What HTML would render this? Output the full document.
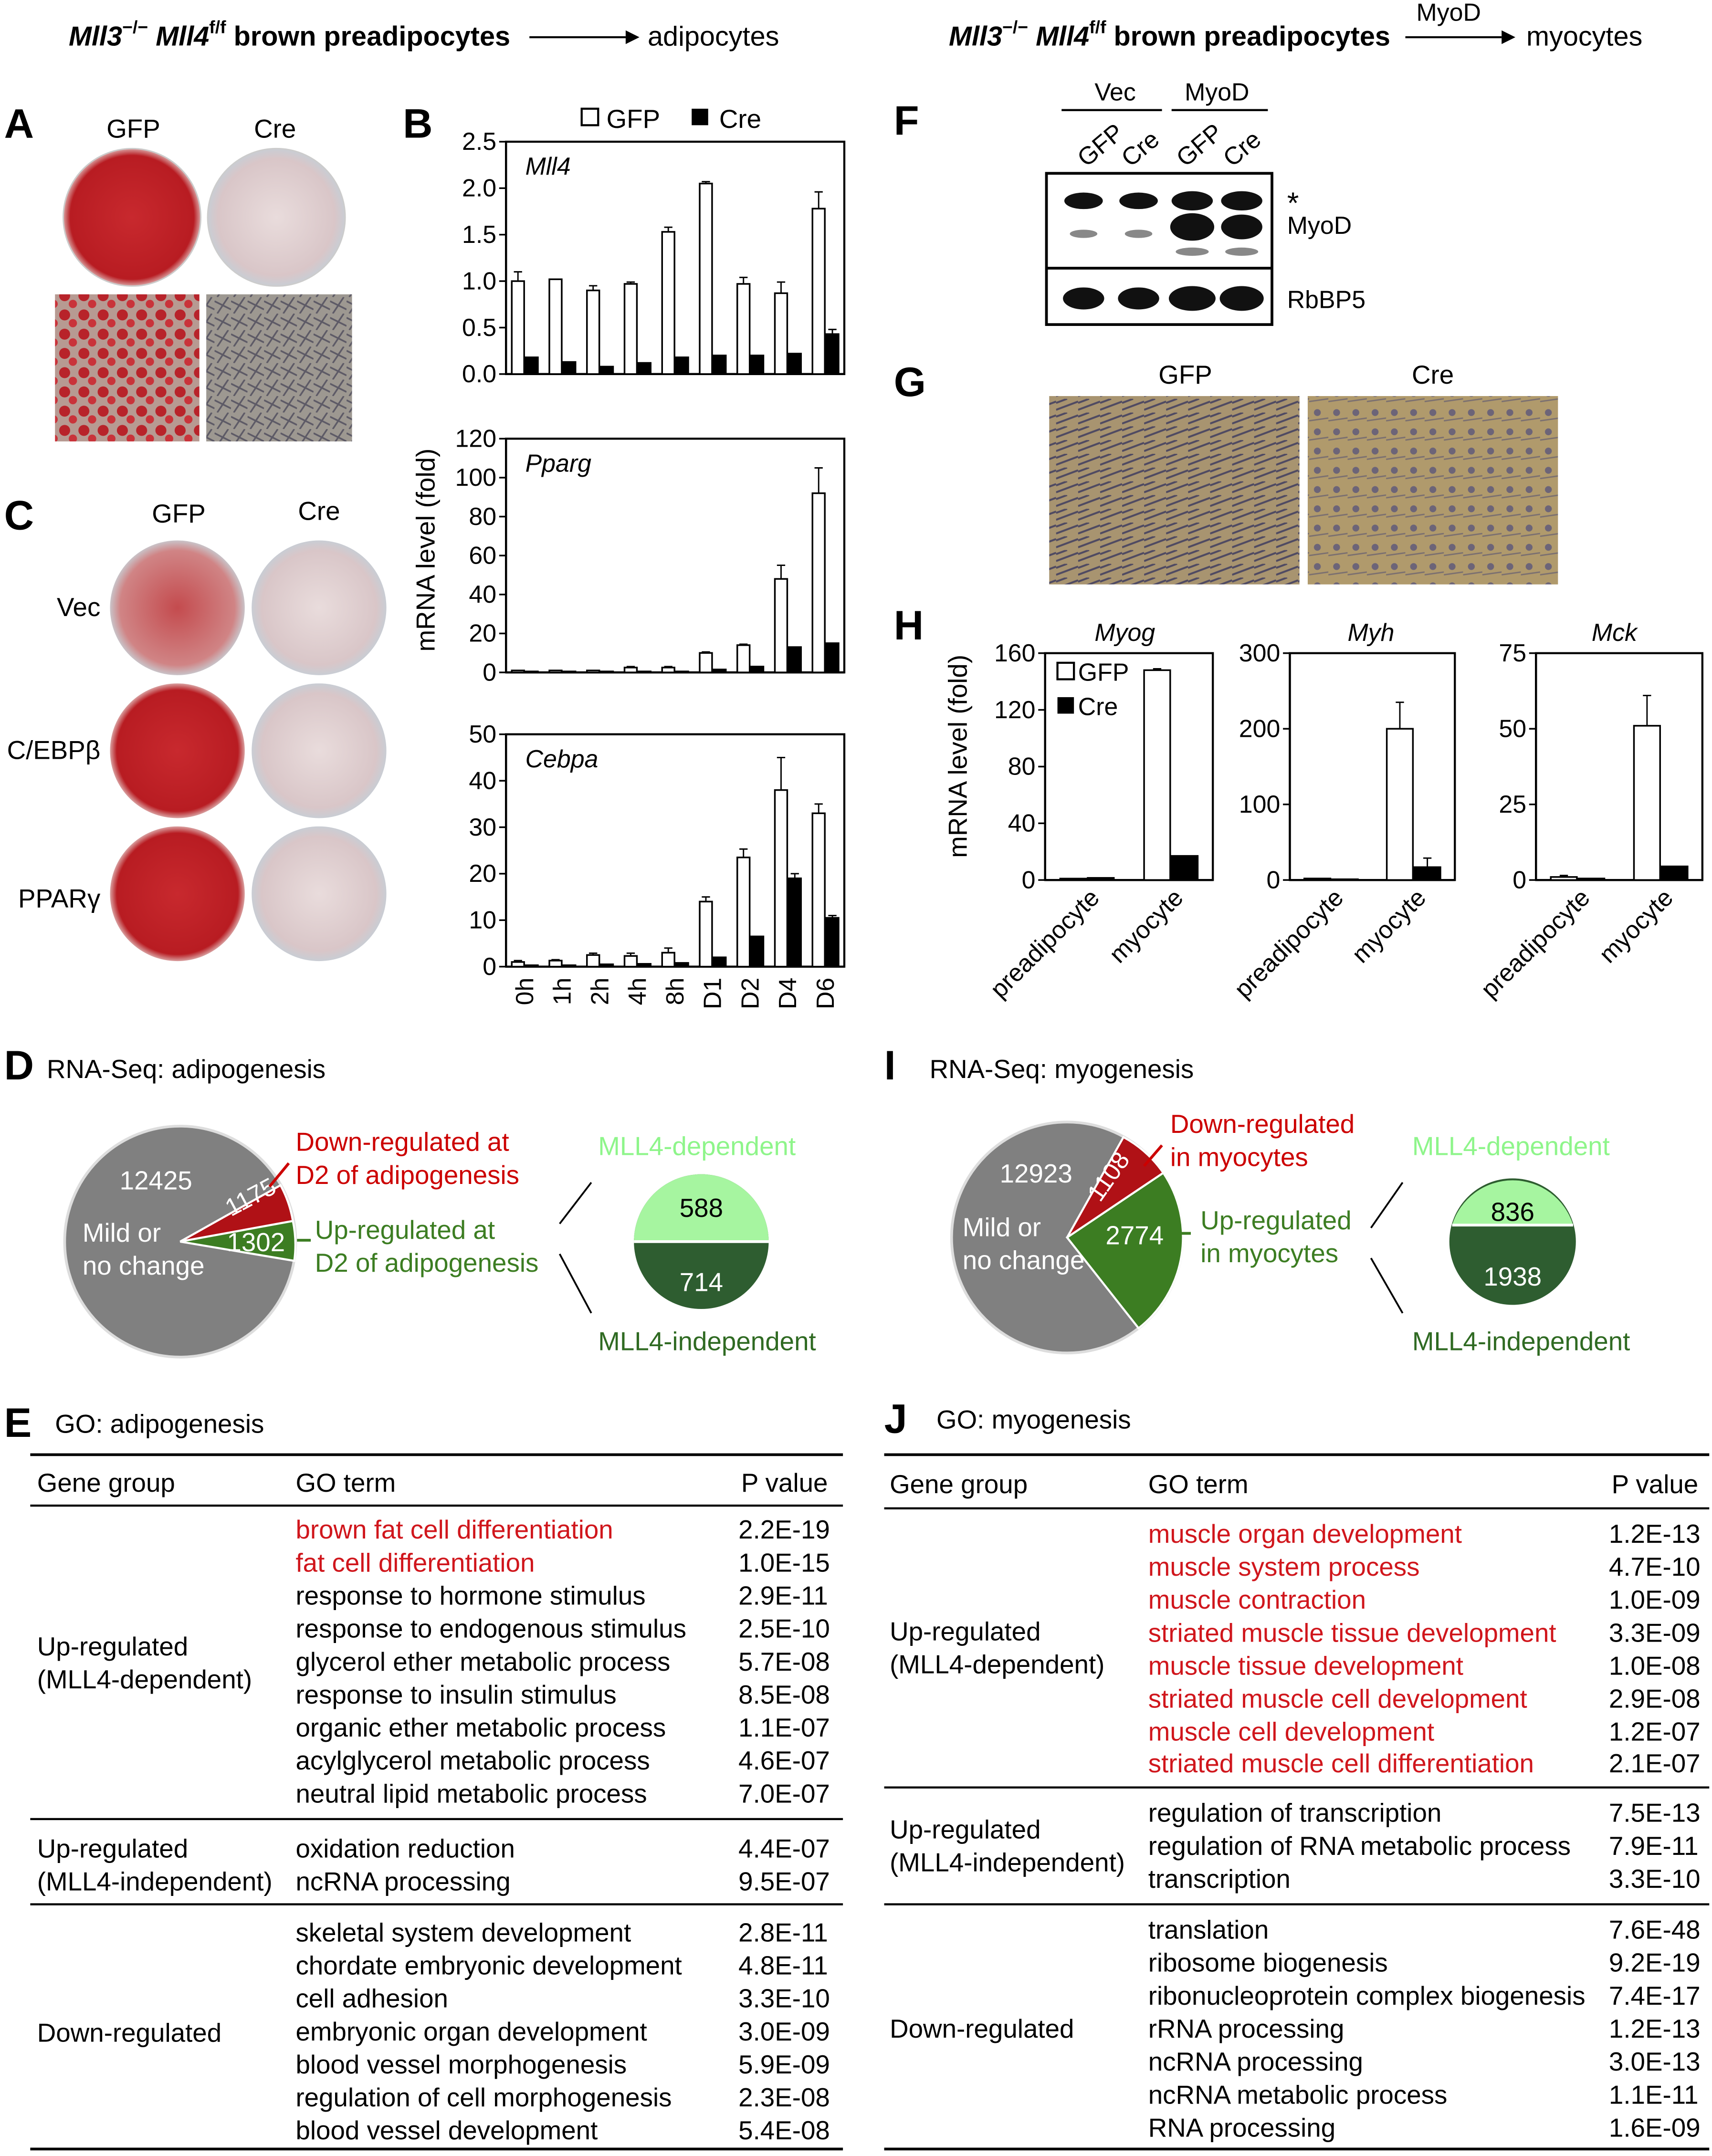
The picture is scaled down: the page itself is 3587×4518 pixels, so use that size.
<!DOCTYPE html>
<html><head><meta charset="utf-8"><style>
html,body{margin:0;padding:0;background:#fff}
svg{display:block;font-family:"Liberation Sans",Arial,sans-serif}
</style></head><body>
<svg id="fig" width="3587" height="4518" viewBox="0 0 1245 1568" xmlns="http://www.w3.org/2000/svg">
<defs>
<radialGradient id="redPlate"><stop offset="0" stop-color="#c8292e"/><stop offset="0.9" stop-color="#b81c22"/><stop offset="1" stop-color="#d9a0a0"/></radialGradient>
<radialGradient id="palePlate"><stop offset="0" stop-color="#e9dcdc"/><stop offset="0.85" stop-color="#d9c6c8"/><stop offset="1" stop-color="#c9cdd4"/></radialGradient>
<radialGradient id="midPlate"><stop offset="0" stop-color="#c44b4e"/><stop offset="0.85" stop-color="#d08485"/><stop offset="1" stop-color="#c9c3c8"/></radialGradient>
<pattern id="fatCells" width="14" height="14" patternUnits="userSpaceOnUse"><rect width="14" height="14" fill="#b79a92"/><circle cx="5" cy="5" r="4" fill="#b8232a"/><circle cx="11" cy="11" r="3" fill="#c9333a"/></pattern>
<pattern id="cells" width="12" height="12" patternUnits="userSpaceOnUse"><rect width="12" height="12" fill="#9d9891"/><path d="M0 3 L12 9 M2 12 L10 0" stroke="#5d5a66" stroke-width="1.2"/></pattern>
<pattern id="myo1" width="16" height="10" patternUnits="userSpaceOnUse"><rect width="16" height="10" fill="#a89470"/><path d="M0 8 L16 2 M0 3 L8 0" stroke="#4f4a62" stroke-width="1.4"/></pattern>
<pattern id="myo2" width="14" height="14" patternUnits="userSpaceOnUse"><rect width="14" height="14" fill="#b09a6c"/><circle cx="6" cy="6" r="2.5" fill="#6c6478"/><path d="M0 12 L14 10" stroke="#7a6f70" stroke-width="1"/></pattern>
</defs>

<!-- headers -->
<g font-size="20" font-weight="bold">
<text x="50" y="33"><tspan font-style="italic">Mll3</tspan><tspan font-size="13" dy="-9">−/−</tspan><tspan dy="9" font-style="italic"> Mll4</tspan><tspan font-size="13" dy="-9">f/f</tspan><tspan dy="9"> brown preadipocytes</tspan></text>
<line x1="385" y1="27" x2="455" y2="27" stroke="#000" stroke-width="1.5"/><path d="M455 22 L465 27 L455 32Z"/>
<text x="471" y="33" font-weight="normal">adipocytes</text>
</g>
<g font-size="20">
<text x="690" y="33" font-weight="bold"><tspan font-style="italic">Mll3</tspan><tspan font-size="13" dy="-9">−/−</tspan><tspan dy="9" font-style="italic"> Mll4</tspan><tspan font-size="13" dy="-9">f/f</tspan><tspan dy="9"> brown preadipocytes</tspan></text>
<text x="1030" y="15" font-size="18">MyoD</text>
<line x1="1022" y1="27" x2="1092" y2="27" stroke="#000" stroke-width="1.5"/><path d="M1092 22 L1102 27 L1092 32Z"/>
<text x="1110" y="33">myocytes</text>
</g>

<!-- panel letters -->
<g font-size="30" font-weight="bold">
<text x="3" y="100">A</text><text x="293" y="100">B</text><text x="3" y="385">C</text><text x="650" y="98">F</text><text x="650" y="288">G</text><text x="650" y="465">H</text><text x="3" y="785">D</text><text x="643" y="785">I</text><text x="3" y="1045">E</text><text x="643" y="1042">J</text>
</g>

<!-- Panel A -->
<g font-size="19">
<text x="97" y="100" text-anchor="middle">GFP</text><text x="200" y="100" text-anchor="middle">Cre</text>
<circle cx="96" cy="158" r="50" fill="url(#redPlate)" stroke="#ccc"/>
<circle cx="201" cy="158" r="50" fill="url(#palePlate)" stroke="#ccc"/>
<rect x="40" y="214" width="105" height="107" fill="url(#fatCells)"/>
<rect x="150" y="214" width="106" height="107" fill="url(#cells)"/>
</g>

<!-- Panel C -->
<g font-size="19">
<text x="130" y="380" text-anchor="middle">GFP</text><text x="232" y="378" text-anchor="middle">Cre</text>
<text x="73" y="448" text-anchor="end">Vec</text><text x="73" y="552" text-anchor="end">C/EBPβ</text><text x="73" y="660" text-anchor="end">PPARγ</text>
<circle cx="129" cy="442" r="49" fill="url(#midPlate)"/><circle cx="232" cy="442" r="49" fill="url(#palePlate)"/>
<circle cx="129" cy="546" r="49" fill="url(#redPlate)"/><circle cx="232" cy="546" r="49" fill="url(#palePlate)"/>
<circle cx="129" cy="650" r="49" fill="url(#redPlate)"/><circle cx="232" cy="650" r="49" fill="url(#palePlate)"/>
</g>

<!-- Panel B legend -->
<g font-size="19">
<rect x="423" y="79" width="12" height="12" fill="#fff" stroke="#000" stroke-width="1.5"/><text x="441" y="93">GFP</text>
<rect x="503" y="79" width="12" height="12" fill="#000"/><text x="523" y="93">Cre</text>
</g>
<text transform="translate(316,400) rotate(-90)" text-anchor="middle" font-size="19">mRNA level (fold)</text>
<g id="chartB"></g>

<!-- Panel F -->
<g font-size="18">
<text x="811" y="73" text-anchor="middle">Vec</text><text x="885" y="73" text-anchor="middle">MyoD</text>
<line x1="772" y1="80" x2="845" y2="80" stroke="#000" stroke-width="1.5"/><line x1="852" y1="80" x2="922" y2="80" stroke="#000" stroke-width="1.5"/>
<text transform="translate(790,122) rotate(-40)">GFP</text><text transform="translate(822,122) rotate(-40)">Cre</text>
<text transform="translate(862,122) rotate(-40)">GFP</text><text transform="translate(896,122) rotate(-40)">Cre</text>
<rect x="761" y="126" width="164" height="110" fill="#fff" stroke="#000" stroke-width="2"/>
<line x1="761" y1="195" x2="925" y2="195" stroke="#000" stroke-width="2"/>
<g fill="#111"><ellipse cx="788" cy="146" rx="14" ry="6"/><ellipse cx="828" cy="146" rx="14" ry="6"/><ellipse cx="867" cy="146" rx="15" ry="7"/><ellipse cx="903" cy="146" rx="15" ry="7"/>
<ellipse cx="867" cy="165" rx="16" ry="10"/><ellipse cx="903" cy="165" rx="15" ry="9"/>
<ellipse cx="788" cy="217" rx="15" ry="8"/><ellipse cx="828" cy="217" rx="15" ry="8"/><ellipse cx="867" cy="217" rx="17" ry="9"/><ellipse cx="903" cy="217" rx="16" ry="9"/></g>
<g fill="#888"><ellipse cx="788" cy="170" rx="10" ry="3"/><ellipse cx="828" cy="170" rx="10" ry="3"/><ellipse cx="867" cy="183" rx="12" ry="3"/><ellipse cx="903" cy="183" rx="12" ry="3"/></g>
<text x="936" y="155" font-size="22">*</text><text x="936" y="170">MyoD</text><text x="936" y="224">RbBP5</text>
</g>

<!-- Panel G -->
<g font-size="19">
<text x="862" y="279" text-anchor="middle">GFP</text><text x="1042" y="279" text-anchor="middle">Cre</text>
<rect x="763" y="288" width="182" height="137" fill="url(#myo1)"/>
<rect x="951" y="288" width="182" height="137" fill="url(#myo2)"/>
</g>

<text transform="translate(703,550) rotate(-90)" text-anchor="middle" font-size="19">mRNA level (fold)</text>
<g id="chartH"></g>

<!-- Panel D -->
<g font-size="19">
<text x="34" y="784">RNA-Seq: adipogenesis</text>
<circle cx="131" cy="903" r="84" fill="#808080" stroke="#ddd" stroke-width="2"/>
<path d="M131 903 L204 862 A84 84 0 0 1 213 888 Z" fill="#b01116" stroke="#fff" stroke-width="1.5"/>
<path d="M131 903 L213 888 A84 84 0 0 1 214 917 Z" fill="#3c7d22" stroke="#fff" stroke-width="1.5"/>
<g fill="#fff"><text x="87" y="865">12425</text><text x="60" y="903">Mild or</text><text x="60" y="927">no change</text><text x="165" y="910">1302</text><text transform="translate(168,885) rotate(-28)" font-size="18">1175</text></g>
<line x1="196" y1="863" x2="210" y2="846" stroke="#c00" stroke-width="2"/>
<g fill="#c00"><text x="215" y="837">Down-regulated at</text><text x="215" y="861">D2 of adipogenesis</text></g>
<line x1="216" y1="902" x2="226" y2="902" stroke="#3c7d22" stroke-width="2"/>
<g fill="#3c7d22"><text x="229" y="901">Up-regulated at</text><text x="229" y="925">D2 of adipogenesis</text></g>
<path d="M407 890 L430 860 M407 912 L430 955" stroke="#000" stroke-width="1.3" fill="none"/>
<text x="435" y="840" fill="#8ef58a">MLL4-dependent</text><text x="435" y="982" fill="#2f6a22">MLL4-independent</text>
<circle cx="510" cy="903" r="49" fill="#2e5d30"/>
<path d="M461 903 A49 49 0 0 1 559 903 Z" fill="#a6f5a0"/>
<line x1="461" y1="903" x2="559" y2="903" stroke="#fff" stroke-width="2"/>
<text x="510" y="885" text-anchor="middle">588</text><text x="510" y="939" text-anchor="middle" fill="#fff">714</text>
</g>

<!-- Panel I -->
<g font-size="19">
<text x="676" y="784">RNA-Seq: myogenesis</text>
<circle cx="776" cy="900" r="84" fill="#808080" stroke="#ddd" stroke-width="2"/>
<path d="M776 900 L817 827 A84 84 0 0 1 846 853 Z" fill="#b01116" stroke="#fff" stroke-width="1.5"/>
<path d="M776 900 L846 853 A84 84 0 0 1 828 966 Z" fill="#3c7d22" stroke="#fff" stroke-width="1.5"/>
<g fill="#fff"><text x="727" y="860">12923</text><text x="700" y="899">Mild or</text><text x="700" y="923">no change</text><text x="804" y="905">2774</text><text transform="translate(800,875) rotate(-55)" font-size="18">1108</text></g>
<line x1="832" y1="848" x2="845" y2="833" stroke="#c00" stroke-width="2"/>
<g fill="#c00"><text x="851" y="824">Down-regulated</text><text x="851" y="848">in myocytes</text></g>
<line x1="856" y1="897" x2="866" y2="897" stroke="#3c7d22" stroke-width="2"/>
<g fill="#3c7d22"><text x="873" y="894">Up-regulated</text><text x="873" y="918">in myocytes</text></g>
<path d="M997 893 L1020 860 M997 915 L1020 955" stroke="#000" stroke-width="1.3" fill="none"/>
<text x="1027" y="840" fill="#8ef58a">MLL4-dependent</text><text x="1027" y="982" fill="#2f6a22">MLL4-independent</text>
<circle cx="1100" cy="903" r="46" fill="#2e5d30"/>
<path d="M1056 891 A46 46 0 0 1 1144 891 Z" fill="#a6f5a0"/>
<line x1="1056" y1="891" x2="1144" y2="891" stroke="#fff" stroke-width="2"/>
<text x="1100" y="888" text-anchor="middle">836</text><text x="1100" y="935" text-anchor="middle" fill="#fff">1938</text>
</g>

<!-- Panel E table -->
<g font-size="19">
<text x="40" y="1042">GO: adipogenesis</text>
<line x1="22" y1="1058" x2="613" y2="1058" stroke="#000" stroke-width="2"/>
<text x="27" y="1085">Gene group</text><text x="215" y="1085">GO term</text><text x="539" y="1085">P value</text>
<line x1="22" y1="1095" x2="613" y2="1095" stroke="#000" stroke-width="1.5"/>
<line x1="22" y1="1323" x2="613" y2="1323" stroke="#000" stroke-width="1.5"/>
<line x1="22" y1="1385" x2="613" y2="1385" stroke="#000" stroke-width="1.5"/>
<line x1="22" y1="1563" x2="613" y2="1563" stroke="#000" stroke-width="2"/>
<text x="27" y="1204">Up-regulated</text><text x="27" y="1228">(MLL4-dependent)</text>
<text x="27" y="1351">Up-regulated</text><text x="27" y="1375">(MLL4-independent)</text>
<text x="27" y="1485">Down-regulated</text>
<g id="tableE"></g>
</g>

<!-- Panel J table -->
<g font-size="19">
<text x="681" y="1039">GO: myogenesis</text>
<line x1="643" y1="1058" x2="1243" y2="1058" stroke="#000" stroke-width="2"/>
<text x="647" y="1086">Gene group</text><text x="835" y="1086">GO term</text><text x="1172" y="1086">P value</text>
<line x1="643" y1="1097" x2="1243" y2="1097" stroke="#000" stroke-width="1.5"/>
<line x1="643" y1="1300" x2="1243" y2="1300" stroke="#000" stroke-width="1.5"/>
<line x1="643" y1="1385" x2="1243" y2="1385" stroke="#000" stroke-width="1.5"/>
<line x1="643" y1="1563" x2="1243" y2="1563" stroke="#000" stroke-width="2"/>
<text x="647" y="1193">Up-regulated</text><text x="647" y="1217">(MLL4-dependent)</text>
<text x="647" y="1337">Up-regulated</text><text x="647" y="1361">(MLL4-independent)</text>
<text x="647" y="1482">Down-regulated</text>
<g id="tableJ"></g>
</g>
</svg>
<script>
const NS="http://www.w3.org/2000/svg";
// ---- Panel B data ----
const timeLabels=["0h","1h","2h","4h","8h","D1","D2","D4","D6"];
const mll4GFP=[1.0,1.02,0.9,0.97,1.53,2.05,0.97,0.87,1.78];
const mll4GFPerr=[0.1,0,0.05,0.02,0.05,0.02,0.07,0.12,0.18];
const mll4Cre=[0.18,0.13,0.08,0.12,0.18,0.2,0.2,0.22,0.43];
const mll4Creerr=[0,0,0,0,0,0,0,0,0.05];
const ppargGFP=[1,1,1,2.5,2.5,10,14,48,92];
const ppargGFPerr=[0,0,0,0.5,0.5,0.5,0.5,7,13];
const ppargCre=[0.5,0.5,0.5,0.5,0.5,1.5,3,13,15];
const ppargCreerr=[0,0,0,0,0,0,0,0,0];
const cebpaGFP=[1,1.3,2.5,2.3,3,14,23.5,38,33];
const cebpaGFPerr=[0.3,0.2,0.4,0.6,1,1,1.8,7,2];
const cebpaCre=[0.3,0.3,0.5,0.6,0.8,2,6.5,19,10.5];
const cebpaCreerr=[0,0,0,0,0,0,0,1,0.5];
const mll4Ticks=[0,0.5,1.0,1.5,2.0,2.5];
const ppargTicks=[0,20,40,60,80,100,120];
const cebpaTicks=[0,10,20,30,40,50];
// ---- Panel H data ----
const cellLabels=["preadipocyte","myocyte"];
const myogGFP=[1,148], myogGFPerr=[0,1], myogCre=[1.5,17], myogCreerr=[0,0];
const myhGFP=[2,200], myhGFPerr=[0,35], myhCre=[1,17], myhCreerr=[0,12];
const mckGFP=[1,51], mckGFPerr=[0.5,10], mckCre=[0.5,4.5], mckCreerr=[0,0];
const myogTicks=[0,40,80,120,160], myhTicks=[0,100,200,300], mckTicks=[0,25,50,75];

function el(tag,attrs,parent,txt){const e=document.createElementNS(NS,tag);for(const k in attrs)e.setAttribute(k,attrs[k]);if(txt!==undefined)e.textContent=txt;parent.appendChild(e);return e;}

function barPanel(o){
  const g=el("g",{},o.parent);
  
  
  const max=o.ticks[o.ticks.length-1];
  const y=v=>o.y0-(v/max)*(o.y0-o.y1);
  const n=o.cats.length, step=(o.x1-o.x0)/n;
  const xc=i=>o.x0+step*(i+0.5);
  el("rect",{x:o.x0,y:o.y1,width:o.x1-o.x0,height:o.y0-o.y1,fill:"none",stroke:"#000","stroke-width":o.box?1.5:0},g);
  el("line",{x1:o.x0,y1:o.y1,x2:o.x0,y2:o.y0,stroke:"#000","stroke-width":1.5},g);
  el("line",{x1:o.x0,y1:o.y0,x2:o.x1,y2:o.y0,stroke:"#000","stroke-width":1.5},g);
  o.ticks.forEach(t=>{
    el("line",{x1:o.x0-5,y1:y(t),x2:o.x0,y2:y(t),stroke:"#000","stroke-width":1.2},g);
    const tl=el("text",{x:o.x0-7,y:y(t)+6,"text-anchor":"end","font-size":18},g,o.fmt?t.toFixed(1):String(t));
    
    
  });
  el("text",{x:o.titleX,y:(o.titleY!==undefined?o.titleY:o.y1+24),"font-size":18,"font-style":"italic","text-anchor":o.titleAnchor||"start"},g,o.title);
  for(let i=0;i<n;i++){
    [[o.gfp,o.gfpErr,"#fff",-1],[o.cre,o.creErr,"#000",1]].forEach(([vals,errs,fill,side])=>{
      const cx=xc(i)+side*o.off, v=vals[i];
      const b=el("rect",{x:cx-o.bw/2,y:y(v),width:o.bw,height:o.y0-y(v),fill:fill,stroke:"#000","stroke-width":1.2},g);
      
      
      if(errs[i]>0){
        el("line",{x1:cx,y1:y(v),x2:cx,y2:y(v+errs[i]),stroke:"#000","stroke-width":1},g);
        el("line",{x1:cx-3,y1:y(v+errs[i]),x2:cx+3,y2:y(v+errs[i]),stroke:"#000","stroke-width":1},g);
      }
    });
  }
  if(o.xlabels){
    o.cats.forEach((c,i)=>{
      const t=el("text",{transform:`translate(${xc(i)+6},${o.y0+8}) rotate(-90)`,"text-anchor":"end","font-size":18},g,c);
      
      
    });
  }
  if(o.hlabels){
    o.cats.forEach((c,i)=>{
      const t=el("text",{transform:`translate(${xc(i)+10},${o.y0+14}) rotate(-45)`,"text-anchor":"end","font-size":18},g,c);
      
      
    });
  }
}
const cB=document.getElementById("chartB");
barPanel({parent:cB,name:"chart-mll4",cats:timeLabels,gfp:mll4GFP,gfpErr:mll4GFPerr,cre:mll4Cre,creErr:mll4Creerr,ticks:mll4Ticks,fmt:true,x0:368,x1:614,y0:272,y1:103,bw:9,off:5,title:"Mll4",titleX:382,box:true});
barPanel({parent:cB,name:"chart-pparg",cats:timeLabels,gfp:ppargGFP,gfpErr:ppargGFPerr,cre:ppargCre,creErr:ppargCreerr,ticks:ppargTicks,x0:368,x1:614,y0:489,y1:319,bw:9,off:5,title:"Pparg",titleX:382,box:true});
barPanel({parent:cB,name:"chart-cebpa",cats:timeLabels,gfp:cebpaGFP,gfpErr:cebpaGFPerr,cre:cebpaCre,creErr:cebpaCreerr,ticks:cebpaTicks,x0:368,x1:614,y0:703,y1:534,bw:9,off:5,title:"Cebpa",titleX:382,box:true,xlabels:true});
const cH=document.getElementById("chartH");
barPanel({parent:cH,name:"chart-myog",cats:cellLabels,gfp:myogGFP,gfpErr:myogGFPerr,cre:myogCre,creErr:myogCreerr,ticks:myogTicks,x0:760,x1:882,y0:640,y1:475,bw:19,off:10,title:"Myog",titleX:818,titleY:466,titleAnchor:"middle",box:true,hlabels:true});
barPanel({parent:cH,name:"chart-myh",cats:cellLabels,gfp:myhGFP,gfpErr:myhGFPerr,cre:myhCre,creErr:myhCreerr,ticks:myhTicks,x0:938,x1:1058,y0:640,y1:475,bw:19,off:10,title:"Myh",titleX:997,titleY:466,titleAnchor:"middle",box:true,hlabels:true});
barPanel({parent:cH,name:"chart-mck",cats:cellLabels,gfp:mckGFP,gfpErr:mckGFPerr,cre:mckCre,creErr:mckCreerr,ticks:mckTicks,x0:1117,x1:1238,y0:640,y1:475,bw:19,off:10,title:"Mck",titleX:1174,titleY:466,titleAnchor:"middle",box:true,hlabels:true});
// H legend
const lg=el("g",{},cH);


el("rect",{x:769,y:482,width:12,height:12,fill:"#fff",stroke:"#000","stroke-width":1.5},lg);
el("text",{x:784,y:495,"font-size":18},lg,"GFP");
el("rect",{x:769,y:507,width:12,height:12,fill:"#000"},lg);
el("text",{x:784,y:520,"font-size":18},lg,"Cre");

// tables
const eTerms=[["brown fat cell differentiation","2.2E-19",1],["fat cell differentiation","1.0E-15",1],["response to hormone stimulus","2.9E-11",0],["response to endogenous stimulus","2.5E-10",0],["glycerol ether metabolic process","5.7E-08",0],["response to insulin stimulus","8.5E-08",0],["organic ether metabolic process","1.1E-07",0],["acylglycerol metabolic process","4.6E-07",0],["neutral lipid metabolic process","7.0E-07",0],
["oxidation reduction","4.4E-07",0],["ncRNA processing","9.5E-07",0],
["skeletal system development","2.8E-11",0],["chordate embryonic development","4.8E-11",0],["cell adhesion","3.3E-10",0],["embryonic organ development","3.0E-09",0],["blood vessel morphogenesis","5.9E-09",0],["regulation of cell morphogenesis","2.3E-08",0],["blood vessel development","5.4E-08",0]];
const eY=[1119,1143,1167,1191,1215,1239,1263,1287,1311,1351,1375,1412,1436,1460,1484,1508,1532,1556];
const jTerms=[["muscle organ development","1.2E-13",1],["muscle system process","4.7E-10",1],["muscle contraction","1.0E-09",1],["striated muscle tissue development","3.3E-09",1],["muscle tissue development","1.0E-08",1],["striated muscle cell development","2.9E-08",1],["muscle cell development","1.2E-07",1],["striated muscle cell differentiation","2.1E-07",1],
["regulation of transcription","7.5E-13",0],["regulation of RNA metabolic process","7.9E-11",0],["transcription","3.3E-10",0],
["translation","7.6E-48",0],["ribosome biogenesis","9.2E-19",0],["ribonucleoprotein complex biogenesis","7.4E-17",0],["rRNA processing","1.2E-13",0],["ncRNA processing","3.0E-13",0],["ncRNA metabolic process","1.1E-11",0],["RNA processing","1.6E-09",0]];
const jY=[1122,1146,1170,1194,1218,1242,1266,1289,1325,1349,1373,1410,1434,1458,1482,1506,1530,1554];
function table(id,terms,ys,xt,xp){
  const g=document.getElementById(id);
  terms.forEach((r,i)=>{
    const t=el("text",{x:xt,y:ys[i],fill:r[2]?"#d0161c":"#000"},g,r[0]);
    
    
    const p=el("text",{x:xp,y:ys[i]},g,r[1]);
    
    
  });
}
table("tableE",eTerms,eY,215,537);
table("tableJ",jTerms,jY,835,1170);
</script>
</body></html>
